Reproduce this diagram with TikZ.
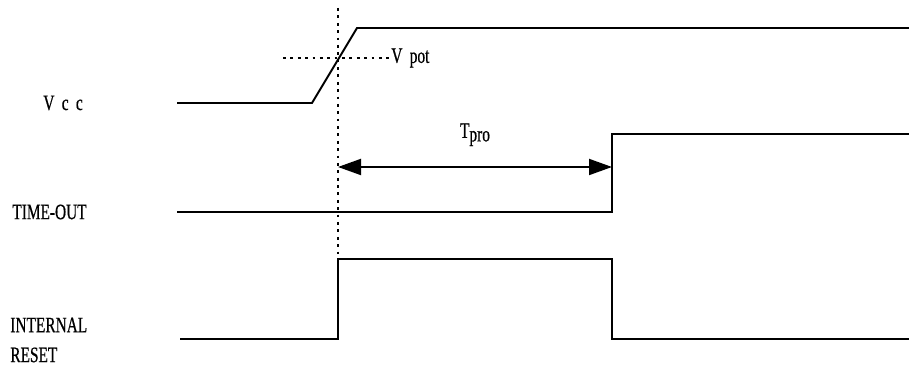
\documentclass[tikz,border=0pt]{standalone}
\usepackage{fontspec}
\setmainfont{Liberation Serif}
\newfontfamily\etiqfont[FakeStretch=0.7, FakeBold=0.6]{Liberation Serif}
\usetikzlibrary{arrows.meta, positioning}
\tikzset{
  senal/.style={line width=1.1pt, color=black},
  guia/.style={line width=0.9pt, dash pattern=on 1.6pt off 2.6pt},
  flecha/.style={{Triangle[length=4.6mm, width=3.2mm]}-{Triangle[length=4.6mm, width=3.2mm]}, line width=1.1pt},
  etiq/.style={font=\etiqfont\fontsize{12.5}{17}\selectfont, align=left, inner sep=0pt}
}
\begin{document}
\begin{tikzpicture}[x=0.02cm, y=-0.02cm]
  \useasboundingbox (0,0) rectangle (909,367);
  % etiquetas
  \node[etiq, anchor=west] (lvcc) at (43,103) {V\,\,c\,\,c};
  \node[etiq, anchor=west] (lto) at (12,212) {TIME-OUT};
  \node[etiq, anchor=west] (lir) at (10,340) {INTERNAL\\RESET};
  % puntos de las senales
  \coordinate (v0) at (177,103);
  \coordinate (v1) at (312,103);
  \coordinate (v2) at (357,28);
  \coordinate (v3) at (909,28);
  \coordinate (t0) at (177,212);
  \coordinate (t1) at (612,212);
  \coordinate (t2) at (612,134);
  \coordinate (t3) at (909,134);
  \coordinate (r0) at (180,339);
  \coordinate (r1) at (338,339);
  \coordinate (r2) at (338,259);
  \coordinate (r3) at (612,259);
  \coordinate (r4) at (612,339);
  \coordinate (r5) at (909,339);
  \coordinate (g0) at (338,8);
  \coordinate (h0) at (283,58);
  \coordinate (h1) at (391,58);
  \node[etiq, anchor=west] (vpot) at (h1) {V\,\,pot};
  % senales
  \draw[senal] (v0) -- (v1) -- (v2) -- (v3);
  \draw[senal] (t0) -- (t1) -- (t2) -- (t3);
  \draw[senal] (r0) -- (r1) -- (r2) -- (r3) -- (r4) -- (r5);
  % guias
  \draw[guia] (g0) -- (r2);
  \draw[guia] (h0) -- (vpot);
  % Tpro
  \coordinate (a0) at (338,167);
  \coordinate (a1) at (612,167);
  \draw[flecha] (a0) -- node[etiq, above=4mm] (tpro) {T\raisebox{-0.35ex}{pro}} (a1);
\end{tikzpicture}
\end{document}
